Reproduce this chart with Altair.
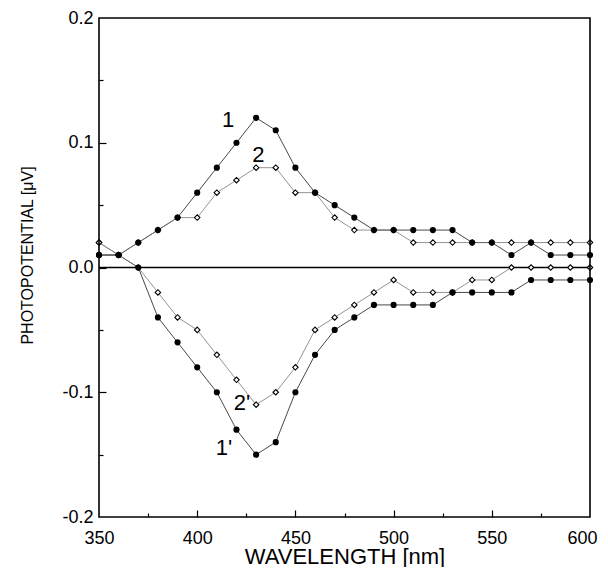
import altair as alt
import pandas as pd

wavelength = [350, 360, 370, 380, 390, 400, 410, 420, 430, 440, 450, 460, 470,
              480, 490, 500, 510, 520, 530, 540, 550, 560, 570, 580, 590, 600]

curve_1 = [0.01, 0.01, 0.02, 0.03, 0.04, 0.06, 0.08, 0.10, 0.12, 0.11, 0.08, 0.06, 0.05,
           0.04, 0.03, 0.03, 0.03, 0.03, 0.03, 0.02, 0.02, 0.01, 0.02, 0.01, 0.01, 0.01]
curve_2 = [0.02, 0.01, 0.02, 0.03, 0.04, 0.04, 0.06, 0.07, 0.08, 0.08, 0.06, 0.06, 0.04,
           0.03, 0.03, 0.03, 0.02, 0.02, 0.02, 0.02, 0.02, 0.02, 0.02, 0.02, 0.02, 0.02]
curve_1p = [0.01, 0.01, 0.00, -0.04, -0.06, -0.08, -0.10, -0.13, -0.15, -0.14, -0.10, -0.07, -0.05,
            -0.04, -0.03, -0.03, -0.03, -0.03, -0.02, -0.02, -0.02, -0.02, -0.01, -0.01, -0.01, -0.01]
curve_2p = [0.02, 0.01, 0.00, -0.02, -0.04, -0.05, -0.07, -0.09, -0.11, -0.10, -0.08, -0.05, -0.04,
            -0.03, -0.02, -0.01, -0.02, -0.02, -0.02, -0.01, -0.01, 0.00, 0.00, 0.00, 0.00, 0.00]

label_text = ["1", "2", "2'", "1'"]
label_x = [415.7, 431.2, 422.8, 413.6]
label_y = [0.118, 0.090, -0.109, -0.1447]

x_domain = [350, 600]
y_domain = [-0.2, 0.2]
x_labels = [350, 400, 450, 500, 550]
x_last_label = [600]
y_labels = [-0.2, -0.1, 0.0, 0.1, 0.2]
x_major = [400, 450, 500, 550]
x_minor = [375, 425, 475, 525, 575]
y_major = [-0.1, 0.0, 0.1]
y_minor = [-0.15, -0.05, 0.05, 0.15]

rows = []
for name, vals, kind in [("1", curve_1, "filled"), ("2", curve_2, "open"),
                         ("1'", curve_1p, "filled"), ("2'", curve_2p, "open")]:
    for w, v in zip(wavelength, vals):
        rows.append({"wl": w, "v": v, "series": name, "kind": kind})
df = pd.DataFrame(rows)
df_f = df[df.kind == "filled"]
df_o = df[df.kind == "open"]
labels = pd.DataFrame({"t": label_text, "x": label_x, "y": label_y})
zero = pd.DataFrame({"wl": x_domain, "v": [0.0, 0.0]})
frame = pd.DataFrame({"x0": [x_domain[0]], "x1": [x_domain[1]],
                      "y0": [y_domain[0]], "y1": [y_domain[1]]})

xs = alt.Scale(domain=x_domain, nice=False, zero=False)
ys = alt.Scale(domain=y_domain, nice=False, zero=False)

FONT = "Liberation Sans"

x_main = alt.Axis(orient="bottom", values=x_labels, tickSize=0, labelFlush=False,
                  domain=False, grid=False, labelFont=FONT, labelFontSize=18,
                  labelColor="black", labelPadding=12, title="WAVELENGTH [nm]",
                  titleFont=FONT, titleFontSize=22, titleFontWeight="normal",
                  titleColor="black", titleBaseline="alphabetic", titleY=46)
x_last = alt.Axis(orient="bottom", values=x_last_label, tickSize=0, labelFlush=False,
                  labelAlign="right", labelOffset=7, domain=False, grid=False,
                  labelFont=FONT, labelFontSize=18, labelColor="black",
                  labelPadding=12, title=None)
y_main = alt.Axis(orient="left", values=y_labels, tickSize=0, labelFlush=False,
                  domain=False, grid=False, labelFont=FONT, labelFontSize=18,
                  labelColor="black", labelPadding=6,
                  labelExpr="datum.value < 0 ? '-' + format(-datum.value, '.1f') : format(datum.value, '.1f')",
                  title="PHOTOPOTENTIAL [μV]", titleFont=FONT, titleY=237,
                  titleFontSize=16, titleFontWeight="normal", titleColor="black",
                  titlePadding=26)
x_maj_ax = alt.Axis(orient="bottom", values=x_major, tickSize=7, offset=-7, domain=False,
                    labels=False, title=None, grid=False, tickColor="black", tickWidth=1.2)
y_maj_ax = alt.Axis(orient="left", values=y_major, tickSize=7, offset=-7, domain=False,
                    labels=False, title=None, grid=False, tickColor="black", tickWidth=1.2)
x_min_ax = alt.Axis(orient="bottom", values=x_minor, tickSize=4, offset=-4, domain=False,
                    labels=False, title=None, grid=False, tickColor="black", tickWidth=1.2)
y_min_ax = alt.Axis(orient="left", values=y_minor, tickSize=4, offset=-4, domain=False,
                    labels=False, title=None, grid=False, tickColor="black", tickWidth=1.2)

lines1 = alt.Chart(df_f).mark_line(color="#333333", strokeWidth=0.9).encode(
    x=alt.X("wl:Q", scale=xs, axis=x_main),
    y=alt.Y("v:Q", scale=ys, axis=y_main),
    detail="series:N")
lines2 = alt.Chart(df_o).mark_line(color="#777777", strokeWidth=0.8).encode(
    x=alt.X("wl:Q", scale=xs, axis=x_maj_ax),
    y=alt.Y("v:Q", scale=ys, axis=y_maj_ax),
    detail="series:N")
zero_line = alt.Chart(zero).mark_line(color="black", strokeWidth=1.6).encode(
    x=alt.X("wl:Q", scale=xs, axis=x_min_ax),
    y=alt.Y("v:Q", scale=ys, axis=y_min_ax))
pts_open = alt.Chart(df_o).mark_point(shape="diamond", filled=True, fill="white",
                                      stroke="black", strokeWidth=1.1, size=30, opacity=1).encode(
    x=alt.X("wl:Q", scale=xs, axis=None),
    y=alt.Y("v:Q", scale=ys, axis=None))
pts_fill = alt.Chart(df_f).mark_circle(color="black", size=38, opacity=1).encode(
    x=alt.X("wl:Q", scale=xs, axis=x_last),
    y=alt.Y("v:Q", scale=ys, axis=None))
text = alt.Chart(labels).mark_text(font=FONT, fontSize=22, color="black",
                                   align="center", baseline="middle").encode(
    x=alt.X("x:Q", scale=xs, axis=None),
    y=alt.Y("y:Q", scale=ys, axis=None),
    text="t:N")
box = alt.Chart(frame).mark_rect(fillOpacity=0, stroke="black", strokeWidth=1.6).encode(
    x=alt.X("x0:Q", scale=xs, axis=None), x2="x1:Q",
    y=alt.Y("y0:Q", scale=ys, axis=None), y2="y1:Q")

chart = alt.layer(lines1, lines2, zero_line, pts_open, pts_fill, text, box).resolve_axis(
    x="independent", y="independent"
).properties(
    width=491, height=499, autosize="none", background="white",
    padding={"left": 91, "top": 10, "right": 8, "bottom": 50}
).configure_view(stroke=None)

chart.save("out.html", embed_options={"renderer": "svg", "actions": False})
